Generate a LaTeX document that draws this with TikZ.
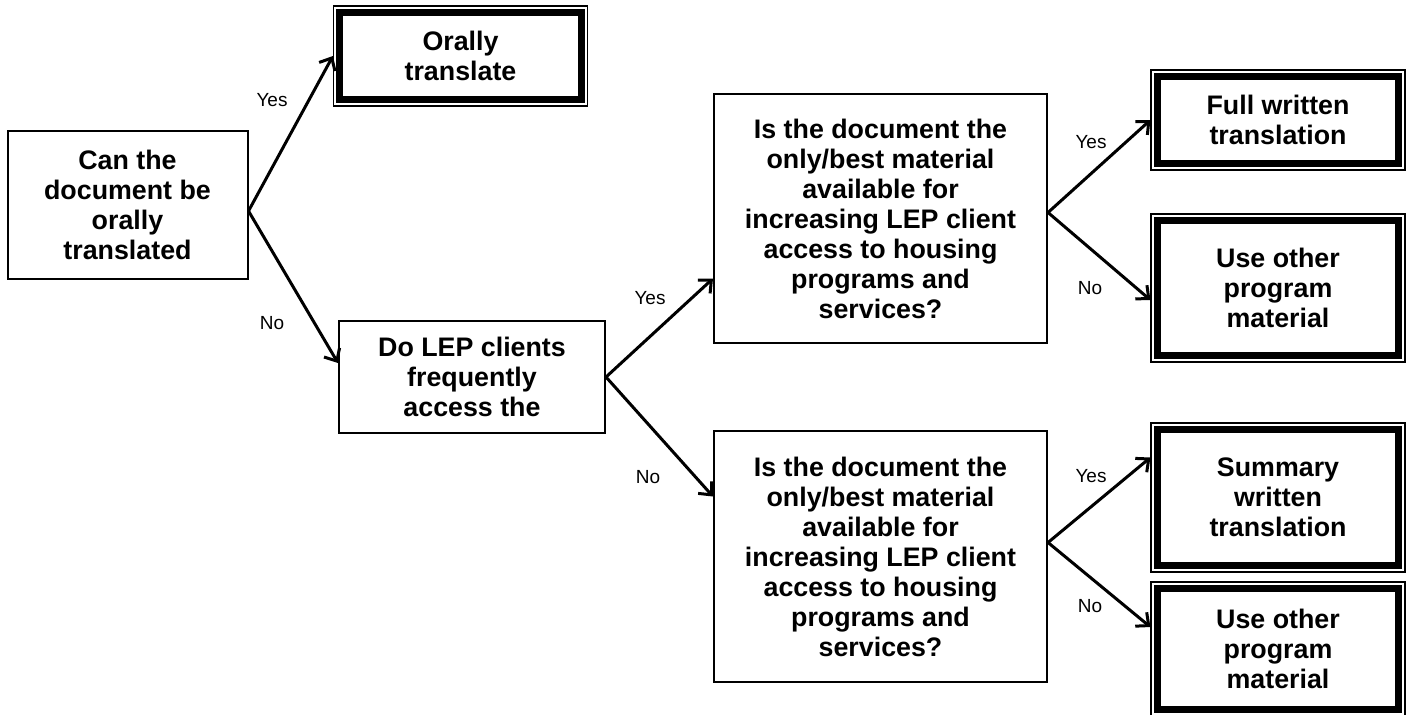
\documentclass[tikz,border=0pt]{standalone}
\usepackage{fontspec}
\setmainfont{Liberation Sans}
\usetikzlibrary{positioning, arrows.meta}

\tikzset{
  askbox/.style={draw, line width=1pt, align=center, inner sep=0pt,
    font=\bfseries\fontsize{13.4}{15}\selectfont},
  endbox/.style={draw, line width=0.6pt, align=center, inner sep=0pt,
    minimum width=127pt, font=\bfseries\fontsize{13.4}{15}\selectfont},
  endframe/.style={line width=3.5pt},
  flow/.style={-{Straight Barb[length=5pt, width=9pt, line width=1.5pt]}, line width=1.5pt},
  answer/.style={font=\fontsize{9.5}{11}\selectfont, inner sep=0pt}
}

\begin{document}
\begin{tikzpicture}[x=0.5pt, y=-0.5pt, line join=miter]

    \useasboundingbox (0,0) rectangle (1411,714);

    % Questions
    \node[askbox, minimum width=120pt, minimum height=74pt] (start) at (127.5,205)
        {Can the\\document be\\orally\\translated};
    \node[askbox, minimum width=133pt, minimum height=56pt] (freq) at (472,377)
        {Do LEP clients\\frequently\\access the};
    \node[askbox, minimum width=166.5pt, minimum height=124.5pt] (q1) at (880.5,218.5)
        {Is the document the\\only/best material\\available for\\increasing LEP client\\access to housing\\programs and\\services?};
    \node[askbox, minimum width=166.5pt, minimum height=125.5pt] (q2) at (880.5,556.5)
        {Is the document the\\only/best material\\available for\\increasing LEP client\\access to housing\\programs and\\services?};

    % Outcomes
    \node[endbox, minimum height=50pt] (oral) at (460.5,56) {Orally\\translate};
    \node[endbox, minimum height=50pt] (full) at (1278,120) {Full written\\translation};
    \node[endbox, minimum height=74pt] (other1) at (1278,288) {Use other\\program\\material};
    \node[endbox, minimum height=74.5pt] (summ) at (1278,497.5) {Summary\\written\\translation};
    \node[endbox, minimum height=67pt] (other2) at (1278,649) {Use other\\program\\material};

    % thick inner frames
    \foreach \n in {oral,full,other1,summ,other2}
        \draw[endframe] ([shift={(3.5pt,-3.5pt)}]\n.north west) rectangle ([shift={(-3.5pt,3.5pt)}]\n.south east);

    % Connectors
    \draw[flow] ([yshift=-3pt]start.east) -- (oral.west);
    \draw[flow] ([yshift=-3pt]start.east) -- ([yshift=7pt]freq.west);
    \draw[flow] (freq.east) -- ([yshift=-30pt]q1.west);
    \draw[flow] (freq.east) -- ([yshift=30pt]q2.west);
    \draw[flow] ([yshift=3pt]q1.east) -- (full.west);
    \draw[flow] ([yshift=3pt]q1.east) -- ([yshift=-6pt]other1.west);
    \draw[flow] ([yshift=7pt]q2.east) -- ([yshift=20pt]summ.west);
    \draw[flow] ([yshift=7pt]q2.east) -- ([yshift=11pt]other2.west);

    % Answers
    \node[answer] (yes1) at (272,100) {Yes};
    \node[answer] (no1) at (272,323) {No};
    \node[answer] (yes2) at (650,298) {Yes};
    \node[answer] (no2) at (648,477) {No};
    \node[answer] (yes3) at (1091,142) {Yes};
    \node[answer] (no3) at (1090,288) {No};
    \node[answer] (yes4) at (1091,476) {Yes};
    \node[answer] (no4) at (1090,606) {No};

\end{tikzpicture}
\end{document}
